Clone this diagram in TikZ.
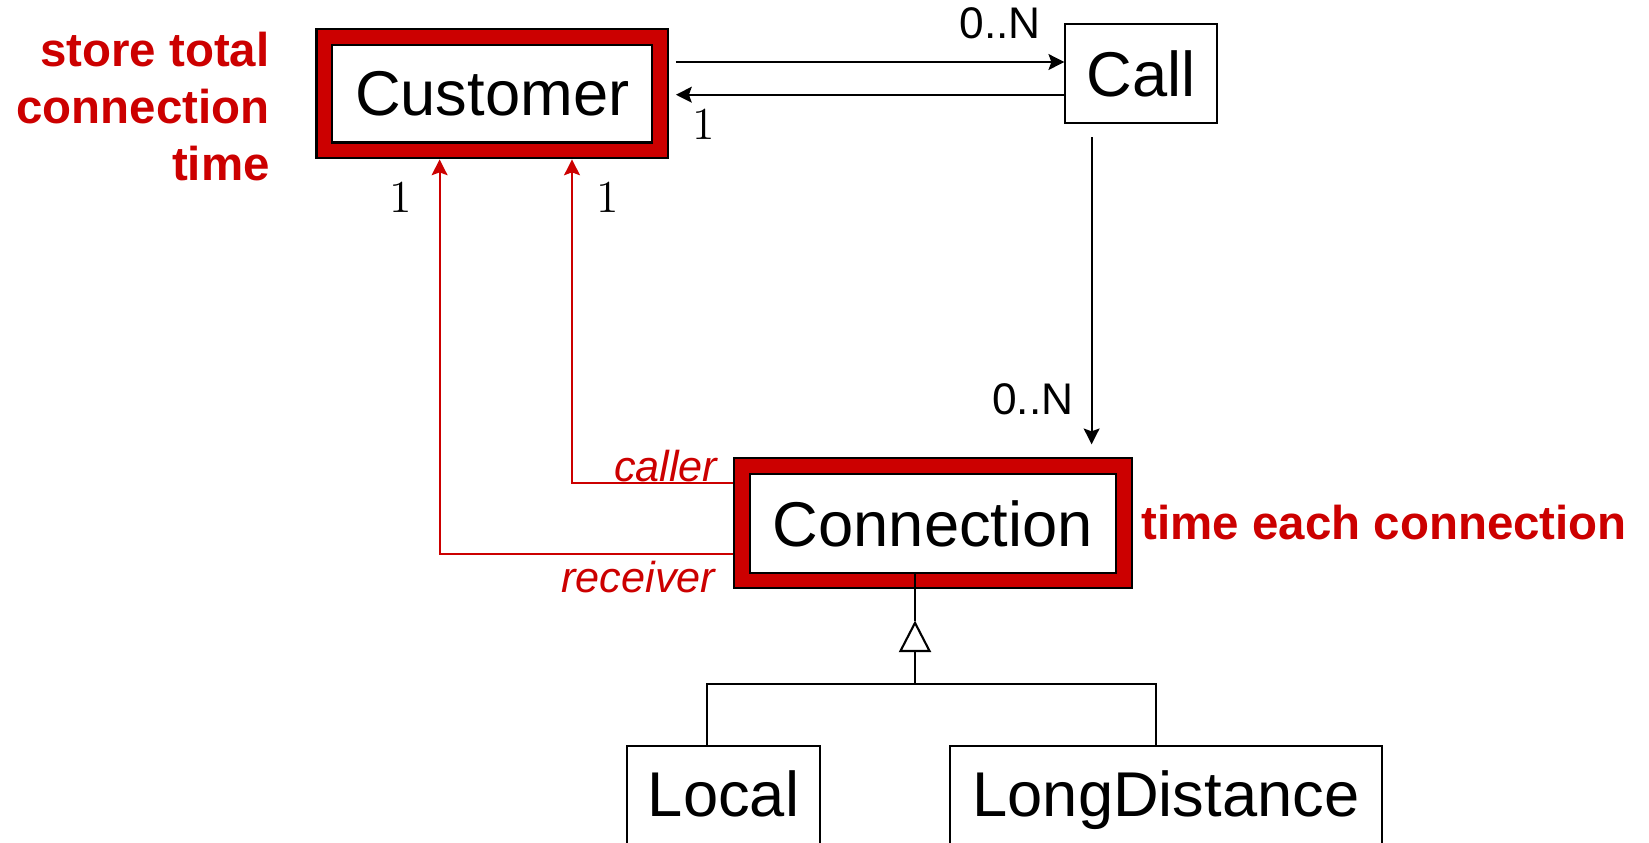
\documentclass[tikz,border=0pt]{standalone}
\usepackage{fontspec}
\usepackage{tikz}
\usetikzlibrary{arrows.meta}
\newfontfamily\arial{Liberation Sans}
\definecolor{umlred}{RGB}{204,0,0}
\tikzstyle{cls}=[draw, line width=0.6pt, fill=white, inner sep=0pt, font=\arial\fontsize{18}{18}\selectfont]
\tikzstyle{sub}=[cls, text depth=0.22em, minimum height=1.026cm]
\tikzstyle{hot}=[cls, double=umlred, double distance=3.9pt, outer sep=2.55pt]
\tikzstyle{arr}=[line width=0.6pt, -{Stealth[length=4.5pt, width=4.5pt, inset=0.8pt]}]
\tikzstyle{rarr}=[arr, umlred]
\tikzstyle{mult}=[inner sep=0pt, font=\arial\fontsize{12.6}{12.6}\selectfont]
\tikzstyle{one}=[inner sep=0pt, font=\fontsize{13}{13}\selectfont]
\tikzstyle{role}=[inner sep=0pt, text=umlred, font=\arial\itshape\fontsize{12.3}{12.3}\selectfont]
\tikzstyle{note}=[inner sep=0pt, text=umlred, font=\arial\bfseries\fontsize{13.5}{16.2}\selectfont]

\begin{document}
\begin{tikzpicture}
    \useasboundingbox (0, 0) rectangle (16.49, -8.42);
    \node[hot, minimum width=3.355cm, minimum height=1.136cm] (Cust) at (4.922, -0.936) {Customer};
    \node[cls, minimum width=1.514cm, minimum height=0.988cm] (Call) at (11.411, -0.736) {Call};
    \node[hot, minimum width=3.818cm, minimum height=1.142cm] (Conn) at (9.329, -5.234) {Connection};
    \node[sub, minimum width=1.935cm] (Loc) at (7.236, -7.97) {Local};
    \node[sub, minimum width=4.323cm] (LD) at (11.659, -7.97) {LongDistance};

    \coordinate (H1) at (0, -0.62) {};
    \coordinate (H2) at (0, -0.947) {};
    \coordinate (V1) at (10.916, 0) {};
    \coordinate (R1) at (5.72, -4.827) {};
    \coordinate (R2) at (4.396, -5.54) {};
    \coordinate (GT) at (9.15, -5.73) {};
    \coordinate (T) at (9.15, -6.205) {};
    \coordinate (G) at (9.15, -6.836) {};
    \coordinate (GL) at (7.067, -6.836) {};
    \coordinate (GR) at (11.558, -6.836) {};

    \draw[arr, shorten <=0.07cm] (Cust.east |- H1) -- (H1 -| Call.west);
    \draw[arr, shorten >=0.07cm] (Call.west |- H2) -- (Cust.east |- H2);
    \draw[arr, shorten <=0.13cm, shorten >=0.13cm] (Call.south -| V1) -- (V1 |- Conn.north);
    \draw[rarr] (R1 -| Conn.west) -| (R1 |- Cust.south);
    \draw[rarr] (R2 -| Conn.west) -| (R2 |- Cust.south);
    \draw[line width=0.6pt] (GT) -- (T);
    \draw[line width=0.6pt, -{Triangle[open, length=0.315cm, width=0.32cm]}] (G) -- (T);
    \draw[line width=0.6pt] (GL |- Loc.north) -- (GL) -- (GR) -- (GR |- LD.north);

    \node[mult] (M1) at (10.0, -0.23) {0..N};
    \node[one] (M2) at (7.036, -1.24) {1};
    \node[mult] (M3) at (10.328, -3.996) {0..N};
    \node[one] (M4) at (4.007, -1.977) {1};
    \node[one] (M5) at (6.079, -1.977) {1};
    \node[role, anchor=east] (caller) at (7.18, -4.66) {caller};
    \node[role, anchor=east] (receiver) at (7.16, -5.77) {receiver};
    \node[note, anchor=west] (N1) at (11.41, -5.227) {time each connection};
    \node[note, anchor=east, align=right] (N2) at (2.703, -1.062) {store total\\connection\\time};
\end{tikzpicture}
\end{document}
